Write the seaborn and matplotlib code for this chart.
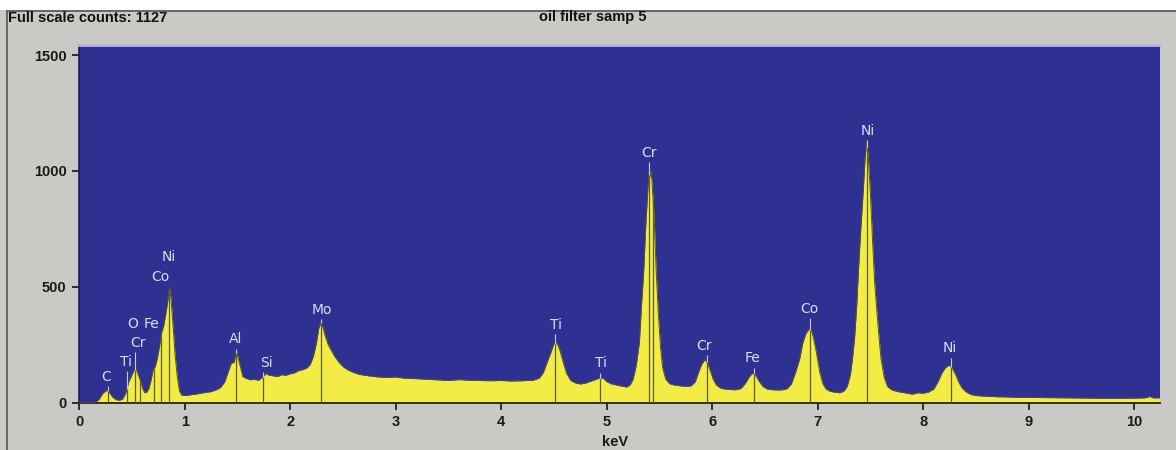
import numpy as np
import pandas as pd
import matplotlib
matplotlib.use('Agg')
import matplotlib.pyplot as plt
from matplotlib.lines import Line2D
from matplotlib.patches import Rectangle
import seaborn as sns

# spectrum (keV, counts)
kev = [0.00, 0.10, 0.16, 0.19, 0.22, 0.25, 0.27, 0.29, 0.32, 0.35, 0.38, 0.41, 0.44, 0.47,
       0.50, 0.52, 0.54, 0.56, 0.58, 0.60, 0.62, 0.64, 0.66, 0.68, 0.70, 0.72, 0.74, 0.76,
       0.78, 0.80, 0.82, 0.84, 0.855, 0.87, 0.89, 0.91, 0.93, 0.95, 0.97, 1.00, 1.05, 1.10,
       1.15, 1.20, 1.25, 1.30, 1.34, 1.38, 1.41, 1.44, 1.47, 1.49, 1.51, 1.53, 1.55, 1.58,
       1.62, 1.66, 1.70, 1.74, 1.77, 1.80, 1.84, 1.88, 1.92, 1.96, 2.00, 2.04, 2.08, 2.12,
       2.16, 2.19, 2.22, 2.25, 2.27, 2.29, 2.31, 2.33, 2.36, 2.39, 2.42, 2.46, 2.50, 2.55,
       2.60, 2.65, 2.70, 2.80, 2.90, 3.00, 3.10, 3.20, 3.30, 3.40, 3.50, 3.60, 3.70, 3.80,
       3.90, 4.00, 4.10, 4.20, 4.30, 4.36, 4.40, 4.44, 4.47, 4.50, 4.52, 4.54, 4.56, 4.59,
       4.62, 4.66, 4.70, 4.75, 4.80, 4.85, 4.90, 4.94, 4.97, 5.00, 5.05, 5.10, 5.15, 5.19,
       5.22, 5.25, 5.28, 5.31, 5.33, 5.35, 5.37, 5.39, 5.40, 5.41, 5.42, 5.43, 5.45, 5.47,
       5.49, 5.51, 5.53, 5.56, 5.60, 5.65, 5.70, 5.75, 5.80, 5.84, 5.87, 5.90, 5.93, 5.95,
       5.98, 6.01, 6.04, 6.08, 6.12, 6.17, 6.22, 6.27, 6.31, 6.35, 6.38, 6.41, 6.44, 6.48,
       6.52, 6.57, 6.62, 6.67, 6.71, 6.75, 6.79, 6.83, 6.86, 6.89, 6.92, 6.94, 6.96, 6.99,
       7.02, 7.05, 7.08, 7.12, 7.17, 7.21, 7.25, 7.28, 7.31, 7.33, 7.35, 7.37, 7.39, 7.41,
       7.43, 7.45, 7.465, 7.48, 7.50, 7.52, 7.54, 7.56, 7.58, 7.60, 7.63, 7.66, 7.70, 7.75,
       7.80, 7.85, 7.90, 7.95, 8.00, 8.05, 8.10, 8.14, 8.18, 8.21, 8.24, 8.26, 8.28, 8.31,
       8.34, 8.37, 8.41, 8.45, 8.50, 8.60, 8.70, 8.80, 8.90, 9.00, 9.20, 9.40, 9.60, 9.80,
       10.00, 10.10, 10.15, 10.18, 10.24]
counts = [0, 0, 2, 15, 38, 50, 52, 40, 22, 12, 10, 14, 40, 90,
          120, 140, 145, 118, 95, 62, 42, 45, 60, 95, 140, 155, 190, 240,
          300, 330, 380, 440, 500, 450, 330, 200, 110, 50, 32, 30, 33, 36,
          40, 44, 47, 55, 65, 90, 130, 168, 175, 225, 185, 150, 112, 105,
          98, 100, 96, 110, 125, 118, 115, 112, 120, 118, 124, 128, 138, 142,
          150, 165, 200, 260, 320, 345, 325, 290, 250, 225, 200, 175, 155, 140,
          130, 122, 118, 112, 108, 110, 104, 103, 100, 98, 95, 99, 96, 95,
          94, 95, 93, 94, 96, 105, 130, 180, 215, 255, 262, 245, 220, 170,
          125, 95, 85, 80, 84, 92, 100, 108, 104, 90, 80, 75, 70, 67,
          75, 100, 160, 260, 420, 560, 760, 920, 990, 975, 1000, 950, 800, 560,
          380, 240, 150, 100, 80, 75, 72, 70, 72, 90, 130, 165, 185, 175,
          140, 100, 75, 62, 58, 56, 55, 60, 80, 110, 126, 120, 95, 70,
          58, 55, 54, 55, 60, 80, 130, 190, 260, 300, 318, 312, 280, 210,
          130, 80, 58, 48, 44, 42, 50, 70, 120, 190, 280, 420, 600, 760,
          900, 1060, 1127, 1060, 900, 700, 520, 400, 290, 190, 110, 70, 55, 48,
          44, 40, 36, 42, 40, 45, 58, 90, 130, 150, 160, 158, 145, 118,
          85, 62, 45, 35, 30, 27, 25, 24, 22, 22, 21, 20, 19, 18,
          19, 20, 26, 20, 20]

# KLM marker lines
line_kev = [0.277, 0.452, 0.525, 0.573, 0.705, 0.776, 0.851, 1.486, 1.740, 2.293,
            4.510, 4.932, 5.405, 5.440, 5.947, 6.398, 6.930, 7.471, 8.264]

# element labels
lab_txt = ['C', 'Ti', 'Cr', 'O', 'Fe', 'Co', 'Ni', 'Al', 'Si', 'Mo',
           'Ti', 'Ti', 'Cr', 'Cr', 'Fe', 'Co', 'Ni', 'Ni']
lab_kev = [0.254, 0.444, 0.560, 0.507, 0.687, 0.766, 0.845, 1.486, 1.777, 2.299,
           4.520, 4.946, 5.404, 5.925, 6.380, 6.920, 7.470, 8.254]
lab_cnt = [111, 176, 256, 339, 339, 543, 630, 273, 172, 399,
           335, 169, 1079, 244, 191, 404, 1174, 234]

df = pd.DataFrame({'keV': kev, 'counts': counts})

BLUE = '#2e3192'
YELLOW = '#f2ec45'
GRAY = '#c9c9c5'

sns.set_theme(style='ticks')
plt.rcParams['font.family'] = ['Liberation Sans', 'DejaVu Sans']

fig = plt.figure(figsize=(11.76, 4.5), dpi=100, facecolor=GRAY)
ax = fig.add_axes([79.2 / 1176, 47.5 / 450, 1080.8 / 1176, 357.5 / 450])
ax.set_facecolor(BLUE)

ax.fill_between(df['keV'], 0, df['counts'], color=YELLOW, lw=0, zorder=2)
sns.lineplot(data=df, x='keV', y='counts', ax=ax, color='#55551f', lw=0.7, zorder=3)

# marker lines: dark inside the peak, light above it
for x in line_kev:
    y = np.interp(x, df['keV'], df['counts'])
    ax.vlines(x, 0, y, color='#5d5d2a', lw=0.9, zorder=4)
for t, x, y in zip(lab_txt, lab_kev, lab_cnt):
    ax.text(x, y, t, color='#dcdcf6', fontsize=10, ha='center', va='center',
            family=['DejaVu Sans'], zorder=5)
    near = [lk for lk in line_kev if abs(lk - x) < 0.05]
    for lk in near:
        top = y - 40
        sy = np.interp(lk, df['keV'], df['counts'])
        if 0 < top - sy < 80:
            ax.vlines(lk, sy, top, color='#c8c8e0', lw=0.8, zorder=4)

ax.set_xlim(0, 10.245)
ax.set_ylim(0, 1544)
ax.set_xticks(range(0, 11))
ax.set_yticks([0, 500, 1000, 1500])
ax.tick_params(axis='both', colors='#222222', labelcolor='#1a1a1a', length=5, width=1.3,
               labelsize=10.5)
ax.tick_params(axis='y', pad=4)
ax.tick_params(axis='x', pad=4)
for lbl in ax.get_xticklabels() + ax.get_yticklabels():
    lbl.set_fontweight('bold')
ax.set_xlabel('keV', fontsize=10.5, fontweight='bold', color='#1a1a1a')
ax.xaxis.set_label_coords((615.5 - 79.2) / 1080.8, -0.09)
ax.set_ylabel('')

ax.spines['top'].set_color('#b4b4ec')
ax.spines['top'].set_linewidth(2)
ax.spines['right'].set_visible(False)
ax.spines['left'].set_color('#1c1c60')
ax.spines['left'].set_linewidth(1.2)
ax.spines['bottom'].set_color('#222222')
ax.spines['bottom'].set_linewidth(1.3)

# frame around the panel
fig.patches.append(Rectangle((0, 1 - 10 / 450), 1, 10 / 450, transform=fig.transFigure,
                             facecolor='white', edgecolor='none', zorder=0))
fig.lines.append(Line2D([7 / 1176, 1], [1 - 10.5 / 450, 1 - 10.5 / 450],
                        transform=fig.transFigure, color='#555555', lw=1.2))
fig.lines.append(Line2D([7 / 1176, 7 / 1176], [0, 1 - 10.5 / 450],
                        transform=fig.transFigure, color='#555555', lw=1.2))

fig.text(8 / 1176, 1 - 17.5 / 450, 'Full scale counts: 1127', fontsize=10.5,
         fontweight='bold', color='#111111', ha='left', va='center')
fig.text(593 / 1176, 1 - 17.5 / 450, 'oil filter samp 5', fontsize=10.5,
         fontweight='bold', color='#111111', ha='center', va='center')

fig.savefig('out.png', dpi=100, facecolor=GRAY)
